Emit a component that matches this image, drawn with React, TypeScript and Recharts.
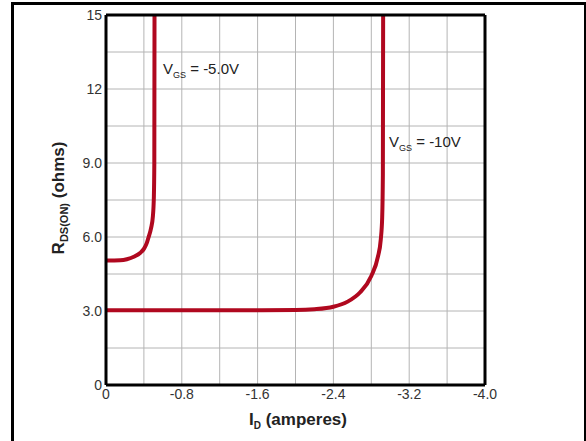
import React from "react";
import { LineChart, Line, XAxis, YAxis, CartesianGrid, ReferenceLine } from "recharts";

// I_D (A), R_DS(on) (ohms)
const vgs5 = [
  { i: 0, r: 5.05 },
  { i: -0.15, r: 5.06 },
  { i: -0.22, r: 5.1 },
  { i: -0.3, r: 5.21 },
  { i: -0.36, r: 5.35 },
  { i: -0.4, r: 5.52 },
  { i: -0.43, r: 5.75 },
  { i: -0.45, r: 6.0 },
  { i: -0.475, r: 6.35 },
  { i: -0.495, r: 6.85 },
  { i: -0.505, r: 7.6 },
  { i: -0.51, r: 9 },
  { i: -0.512, r: 15 },
];

const vgs10 = [
  { i: 0, r: 3.03 },
  { i: -1.0, r: 3.03 },
  { i: -2.0, r: 3.04 },
  { i: -2.2, r: 3.07 },
  { i: -2.4, r: 3.17 },
  { i: -2.55, r: 3.38 },
  { i: -2.68, r: 3.75 },
  { i: -2.8, r: 4.42 },
  { i: -2.87, r: 5.2 },
  { i: -2.9, r: 5.9 },
  { i: -2.915, r: 6.8 },
  { i: -2.922, r: 8.5 },
  { i: -2.925, r: 15 },
];

const xTicks = [0, -0.4, -0.8, -1.2, -1.6, -2.0, -2.4, -2.8, -3.2, -3.6, -4.0];
const xLabels: Record<string, string> = { "0": "0", "-0.8": "-0.8", "-1.6": "-1.6", "-2.4": "-2.4", "-3.2": "-3.2", "-4": "-4.0" };
const yTicks = [0, 1.5, 3, 4.5, 6, 7.5, 9, 10.5, 12, 13.5, 15];
const yLabels: Record<string, string> = { "0": "0", "3": "3.0", "6": "6.0", "9": "9.0", "12": "12", "15": "15" };

const RED = "#b0081f";
const FONT = "'Liberation Sans', Arial, sans-serif";

const XTick = (props: any) => {
  const { x, y, payload } = props;
  const label = xLabels[String(Math.round(payload.value * 10) / 10)];
  if (!label) return null;
  return (
    <text x={x} y={y + 12} textAnchor="middle" fontSize={14} fill="#333" fontFamily={FONT}>
      {label}
    </text>
  );
};

const YTick = (props: any) => {
  const { x, y, payload } = props;
  const label = yLabels[String(payload.value)];
  if (!label) return null;
  return (
    <text x={x} y={y + 4.5} textAnchor="end" fontSize={14} fill="#333" fontFamily={FONT}>
      {label}
    </text>
  );
};

export default function App() {
  return (
    <div style={{ position: "absolute", left: 0, top: 0, width: 586, height: 441, background: "#fff", overflow: "hidden", fontFamily: FONT }}>
      <div
        style={{
          position: "absolute",
          left: 11,
          top: 2,
          width: 570,
          height: 470,
          border: "3px solid #000",
          borderBottom: "none",
        }}
      />
      <div style={{ position: "absolute", left: 0, top: 0 }}>
        <LineChart width={586} height={441} margin={{ top: 15, right: 101, left: 66, bottom: 26 }}>
          <CartesianGrid stroke="#b4b4b4" strokeWidth={1} />
          <XAxis
            type="number"
            dataKey="i"
            domain={[-4, 0]}
            reversed
            ticks={xTicks}
            interval={0}
            tickSize={0}
            tickMargin={2}
            axisLine={false}
            height={30}
            tick={<XTick />}
          />
          <YAxis
            type="number"
            dataKey="r"
            domain={[0, 15]}
            ticks={yTicks}
            interval={0}
            tickSize={0}
            tickMargin={4}
            axisLine={false}
            width={40}
            tick={<YTick />}
          />
          <Line data={vgs5} dataKey="r" type="monotone" stroke={RED} strokeWidth={4} dot={false} isAnimationActive={false} />
          <Line data={vgs10} dataKey="r" type="monotone" stroke={RED} strokeWidth={4} dot={false} isAnimationActive={false} />
          <ReferenceLine x={0} stroke="#000" strokeWidth={3} />
          <ReferenceLine x={-4} stroke="#000" strokeWidth={3} />
          <ReferenceLine y={0} stroke="#000" strokeWidth={3} />
          <ReferenceLine y={15} stroke="#000" strokeWidth={3} />
        </LineChart>
      </div>
      <svg width={586} height={441} style={{ position: "absolute", left: 0, top: 0, pointerEvents: "none" }}>
        <text x={163} y={74} fontSize={15} fill="#222" fontFamily={FONT}>
          V<tspan fontSize={9} dy={4}>GS</tspan>
          <tspan dy={-4}> = -5.0V</tspan>
        </text>
        <text x={389} y={147} fontSize={15} fill="#222" fontFamily={FONT}>
          V<tspan fontSize={9} dy={4}>GS</tspan>
          <tspan dy={-4}> = -10V</tspan>
        </text>
        <text x={298} y={425} textAnchor="middle" fontSize={17} fontWeight="bold" fill="#222" fontFamily={FONT}>
          I<tspan fontSize={10} dy={4}>D</tspan>
          <tspan dy={-4}> (amperes)</tspan>
        </text>
        <text
          x={0}
          y={0}
          transform="translate(64,198) rotate(-90)"
          textAnchor="middle"
          fontSize={17}
          fontWeight="bold"
          fill="#222"
          fontFamily={FONT}
        >
          R<tspan fontSize={11} dy={4}>DS(ON)</tspan>
          <tspan dy={-4}> (ohms)</tspan>
        </text>
      </svg>
    </div>
  );
}
